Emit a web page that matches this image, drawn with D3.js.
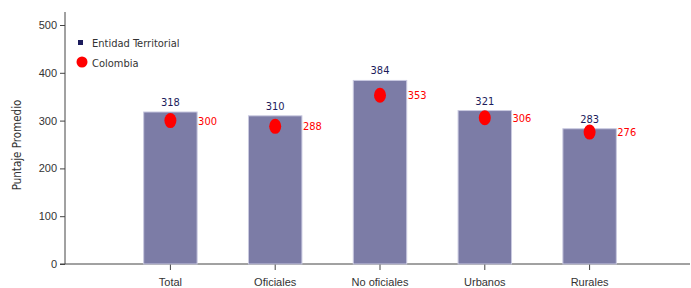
<!DOCTYPE html>
<html>
<head>
<meta charset="utf-8">
<script src="https://cdn.jsdelivr.net/npm/d3@7"></script>
<style>
  body { margin: 0; background: #fff; }
  svg { display: block; font-family: "DejaVu Sans Condensed", "DejaVu Sans", sans-serif; }
</style>
</head>
<body>
<svg id="chart" width="691" height="288"></svg>
<script>
var categories = ['Total', 'Oficiales', 'No oficiales', 'Urbanos', 'Rurales'];
var entidad = [318, 310, 384, 321, 283];
var colombia = [300, 288, 353, 306, 276];
var yTicks = [0, 100, 200, 300, 400, 500];

var svg = d3.select('#chart');

var x = d3.scaleBand().domain(categories).range([118, 642]).paddingInner(0.49).paddingOuter(0.245);
var y = d3.scaleLinear().domain([0, 500]).range([264, 25]);

// axes
var yAxis = d3.axisLeft(y).tickValues(yTicks).tickSize(5).tickPadding(3);
var gy = svg.append('g').attr('transform', 'translate(65,0)').call(yAxis);
gy.select('.domain').attr('d', 'M0,12V264');
gy.selectAll('text').attr('font-size', 11).attr('fill', '#333');
gy.selectAll('line, path').attr('stroke', '#444');

var xAxis = d3.axisBottom(x).tickSize(6).tickPadding(8).tickSizeOuter(0);
var gx = svg.append('g').attr('transform', 'translate(0,264)').call(xAxis);
gx.select('.domain').attr('d', 'M60,0H690');
gx.selectAll('text').attr('font-size', 11).attr('fill', '#333');
gx.selectAll('line, path').attr('stroke', '#444');

// bars
svg.append('g').selectAll('rect').data(entidad).join('rect')
    .attr('x', function(d, i){ return x(categories[i]); })
    .attr('y', function(d){ return y(d); })
    .attr('width', x.bandwidth())
    .attr('height', function(d){ return y(0) - y(d); })
    .attr('fill', '#7c7ca6')
    .attr('stroke', '#c9c9e0')
    .attr('stroke-width', 1);

svg.append('g').selectAll('text').data(entidad).join('text')
    .attr('x', function(d, i){ return x(categories[i]) + x.bandwidth()/2; })
    .attr('y', function(d){ return y(d) - 6; })
    .attr('text-anchor', 'middle')
    .attr('font-size', 11)
    .attr('fill', '#1c1c5c')
    .text(function(d){ return d; });

// colombia dots
svg.append('g').selectAll('ellipse').data(colombia).join('ellipse')
    .attr('cx', function(d, i){ return x(categories[i]) + x.bandwidth()/2; })
    .attr('cy', function(d){ return y(d); })
    .attr('rx', 6).attr('ry', 7.5)
    .attr('fill', '#ff0000');

svg.append('g').selectAll('text').data(colombia).join('text')
    .attr('x', function(d, i){ return x(categories[i]) + x.bandwidth() + 1; })
    .attr('y', function(d){ return y(d) + 4; })
    .attr('font-size', 11)
    .attr('fill', '#ff0000')
    .text(function(d){ return d; });

// legend
var lg = svg.append('g').attr('font-size', 11).attr('fill', '#333');
lg.append('rect').attr('x', 78).attr('y', 40).attr('width', 5).attr('height', 5).attr('fill', '#1c1c5c');
lg.append('text').attr('x', 92).attr('y', 47).text('Entidad Territorial');
lg.append('circle').attr('cx', 82).attr('cy', 62).attr('r', 5.5).attr('fill', '#ff0000');
lg.append('text').attr('x', 92).attr('y', 67).text('Colombia');

// y title
svg.append('text')
    .attr('transform', 'translate(21,145) rotate(-90)')
    .attr('text-anchor', 'middle')
    .attr('font-size', 11.5)
    .attr('fill', '#333')
    .text('Puntaje Promedio');
</script>
</body>
</html>
